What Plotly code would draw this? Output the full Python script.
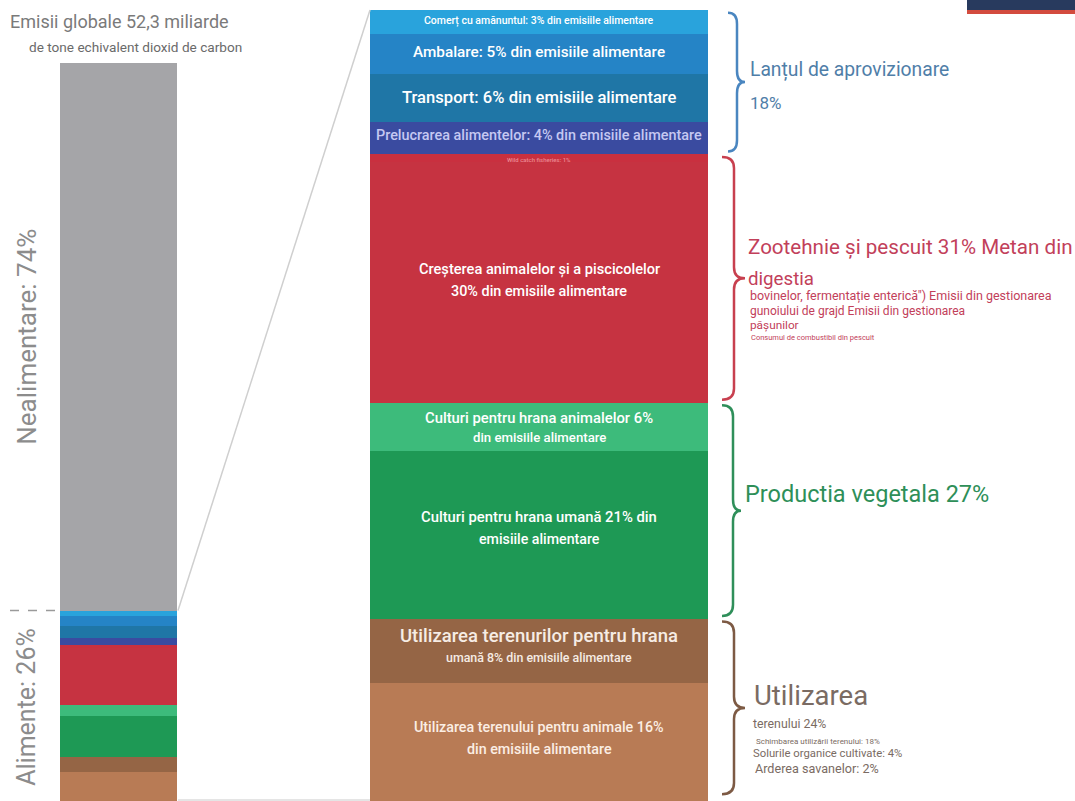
import plotly.graph_objects as go

# ---- data -------------------------------------------------------------
# share of total global emissions (52.3 bn t CO2e)
global_groups = ["Alimente", "Nealimentare"]
global_shares = [26, 74]

# breakdown of food emissions, bottom to top (% of food emissions)
food_segments = [
    "Utilizarea terenului pentru animale",
    "Utilizarea terenurilor pentru hrana umană",
    "Culturi pentru hrana umană",
    "Culturi pentru hrana animalelor",
    "Creșterea animalelor și a piscicolelor",
    "Wild catch fisheries",
    "Prelucrarea alimentelor",
    "Transport",
    "Ambalare",
    "Comerț cu amănuntul",
]
food_shares = [16, 8, 21, 6, 30, 1, 4, 6, 5, 3]

# stage groups (bracketed on the right), bottom to top
stage_names = ["Utilizarea terenului", "Productia vegetala", "Zootehnie și pescuit", "Lanțul de aprovizionare"]
stage_shares = [24, 27, 31, 18]

# ---- styling ----------------------------------------------------------
W, H = 1075, 801
FONT = "Roboto"
seg_colors = ["#b87b55", "#956545", "#1e9955", "#3dbb7b", "#c63341",
              "#c9303f", "#3a4ba0", "#1f76a6", "#2584c6", "#29a3dc"]
GRAY_BAR = "#a5a5a8"

Y1_RANGE = [0.27, 108.5]   # left column, % of global emissions
Y2_RANGE = [1.25, 101.25]  # right column, % of food emissions


def px(x):
    return x / W


def py(y):
    return 1 - y / H


def paper_from(v, rng):
    return (v - rng[0]) / (rng[1] - rng[0])


fig = go.Figure()

# left column: food part split with the same colours, non-food on top
food_total = global_shares[0]
for name, share, col in zip(food_segments, food_shares, seg_colors):
    fig.add_trace(go.Bar(x=[0], y=[share * food_total / 100], width=1,
                         marker=dict(color=col, line=dict(width=0)),
                         xaxis="x", yaxis="y", name=name, hoverinfo="skip"))
fig.add_trace(go.Bar(x=[0], y=[global_shares[1]], width=1,
                     marker=dict(color=GRAY_BAR, line=dict(width=0)),
                     xaxis="x", yaxis="y", name=global_groups[1], hoverinfo="skip"))

# right column: food emissions breakdown
for name, share, col in zip(food_segments, food_shares, seg_colors):
    fig.add_trace(go.Bar(x=[0], y=[share], width=1,
                         marker=dict(color=col, line=dict(width=0)),
                         xaxis="x2", yaxis="y2", name=name, hoverinfo="skip"))

annotations = []

# labels inside the right column: (text, size, colour, yshift)
seg_labels = [
    [("Utilizarea terenului pentru animale 16%", 14.3, "#fbeee4", 20),
     ("din emisiile alimentare", 14.3, "#fbeee4", -2)],
    [("Utilizarea terenurilor pentru hrana", 18.5, "#f6ece4", 15),
     ("umană 8% din emisiile alimentare", 12.4, "#f6ece4", -7)],
    [("Culturi pentru hrana umană 21% din", 14.8, "#ffffff", 18),
     ("emisiile alimentare", 14.2, "#ffffff", -4)],
    [("Culturi pentru hrana animalelor 6%", 14.8, "#ffffff", 9),
     ("din emisiile alimentare", 13.2, "#ffffff", -11)],
    [("Creșterea animalelor și a piscicolelor", 14.6, "#ffffff", 13),
     ("30% din emisiile alimentare", 14.4, "#ffffff", -9)],
    [("Wild catch fisheries: 1%", 6, "#e98a93", -1)],
    [("Prelucrarea alimentelor: 4% din emisiile alimentare", 14.4, "#c5c8f2", 3)],
    [("Transport: 6% din emisiile alimentare", 16.6, "#ffffff", 1)],
    [("Ambalare: 5% din emisiile alimentare", 15.3, "#ffffff", 2)],
    [("Comerț cu amănuntul: 3% din emisiile alimentare", 10.5, "#ffffff", 2)],
]
cum = 0
for share, lines in zip(food_shares, seg_labels):
    mid = cum + share / 2
    cum += share
    for text, size, col, ys in lines:
        annotations.append(dict(x=0, y=mid, xref="x2", yref="y2", text=text,
                                showarrow=False, yshift=ys, xanchor="center",
                                yanchor="middle",
                                font=dict(family=FONT, size=size, color=col, weight=500)))

# titles and side labels on the left
annotations += [
    dict(x=px(8), y=py(22), xref="paper", yref="paper", text="Emisii globale 52,3 miliarde",
         showarrow=False, xanchor="left", yanchor="middle",
         font=dict(family=FONT, size=18, color="#7a7a7a")),
    dict(x=px(135), y=py(47), xref="paper", yref="paper",
         text="de tone echivalent dioxid de carbon", showarrow=False,
         xanchor="center", yanchor="middle", font=dict(family=FONT, size=13.6, color="#6a6a6a")),
    dict(x=px(27), y=global_shares[0] + global_shares[1] / 2, xref="paper", yref="y",
         text=f"Nealimentare: {global_shares[1]}%", textangle=-90, showarrow=False,
         xanchor="center", yanchor="middle", font=dict(family=FONT, size=26, color="#8c8c8c")),
    dict(x=px(27), y=global_shares[0] / 2, xref="paper", yref="y",
         text=f"Alimente: {global_shares[0]}%", textangle=-90, showarrow=False,
         xanchor="center", yanchor="middle", font=dict(family=FONT, size=25, color="#8c8c8c")),
]

# stage descriptions beside the braces
BLUE_T, RED_T, GREEN_T, BROWN_T = "#4f7ea8", "#c2405a", "#2e8f58", "#7a6b63"
side_texts = [
    (748, 70, "Lanțul de aprovizionare", 19.3, BLUE_T),
    (748, 103, f"{stage_shares[3]}%", 17, BLUE_T),
    (746, 247, f"Zootehnie și pescuit {stage_shares[2]}% Metan din", 20.6, RED_T),
    (746, 279, "digestia", 18.7, RED_T),
    (748, 296, "bovinelor, fermentație enterică\") Emisii din gestionarea", 12.5, RED_T),
    (748, 311, "gunoiului de grajd Emisii din gestionarea", 12, RED_T),
    (748, 325, "pășunilor", 11.8, RED_T),
    (749, 338, "Consumul de combustibil din pescuit", 7.5, RED_T),
    (743, 494, f"Productia vegetala {stage_shares[1]}%", 23.5, GREEN_T),
    (752, 695, "Utilizarea", 27.5, BROWN_T),
    (751, 724, f"terenului {stage_shares[0]}%", 12.3, BROWN_T),
    (754, 741, "Schimbarea utilizării terenului: 18%", 8, BROWN_T),
    (751, 753, "Solurile organice cultivate: 4%", 11.3, BROWN_T),
    (753, 768, "Arderea savanelor: 2%", 12.6, BROWN_T),
]
for x, y, text, size, col in side_texts:
    annotations.append(dict(x=px(x), y=py(y), xref="paper", yref="paper", text=text,
                            showarrow=False, xanchor="left", yanchor="middle",
                            font=dict(family=FONT, size=size, color=col)))

shapes = []


def brace(top, bot, x0, xm, xt, color):
    r = 1.4
    mid = (top + bot) / 2
    path = (f"M {px(x0)},{top} Q {px(xm)},{top} {px(xm)},{top - r} "
            f"L {px(xm)},{mid + r} Q {px(xm)},{mid} {px(xt)},{mid} "
            f"Q {px(xm)},{mid} {px(xm)},{mid - r} "
            f"L {px(xm)},{bot + r} Q {px(xm)},{bot} {px(x0)},{bot}")
    return dict(type="path", path=path, xref="paper", yref="y2",
                line=dict(color=color, width=2.5), layer="above")


# one brace per stage group, spanning the stacked segments it covers
brace_style = [
    (722, 734, 745, "#7d5a44"),
    (722, 733, 741, "#2f8f5a"),
    (722, 734, 745, "#c8404f"),
    (728, 737, 745, "#4a86c0"),
]
cum = 0
for share, (x0, xm, xt, col) in zip(stage_shares, brace_style):
    lo, hi = cum, cum + share
    cum = hi
    lo = max(lo, Y2_RANGE[0] + 0.5)
    shapes.append(brace(hi - 0.35, lo + 0.35, x0, xm, xt, col))

# connectors between the two columns
food_top_left = paper_from(global_shares[0], Y1_RANGE)
food_top_right = paper_from(sum(food_shares), Y2_RANGE)
shapes += [
    dict(type="line", xref="paper", yref="paper", x0=px(178), x1=px(370),
         y0=food_top_left, y1=food_top_right, line=dict(color="#cfcfcf", width=1.5)),
    dict(type="line", xref="paper", yref="paper", x0=px(178), x1=px(370),
         y0=py(800), y1=py(800), line=dict(color="#dddddd", width=1.5)),
    dict(type="line", xref="paper", yref="paper", x0=px(10), x1=px(58),
         y0=food_top_left, y1=food_top_left, line=dict(color="#9a9a9a", width=1.5, dash="dash")),
    # badge in the upper-right corner
    dict(type="rect", xref="paper", yref="paper", x0=px(967), x1=px(1075),
         y0=py(10), y1=py(0), fillcolor="#283a5e", line=dict(width=0)),
    dict(type="rect", xref="paper", yref="paper", x0=px(967), x1=px(1075),
         y0=py(14), y1=py(10), fillcolor="#d34b3e", line=dict(width=0)),
]

axis_off = dict(visible=False, showgrid=False, zeroline=False, fixedrange=True)
fig.update_layout(
    width=W, height=H,
    margin=dict(l=0, r=0, t=0, b=0),
    paper_bgcolor="white", plot_bgcolor="rgba(0,0,0,0)",
    barmode="stack", bargap=0, showlegend=False,
    xaxis=dict(domain=[px(60), px(177)], range=[-0.5, 0.5], **axis_off),
    yaxis=dict(domain=[0, 1], range=Y1_RANGE, **axis_off),
    xaxis2=dict(domain=[px(370), px(708)], range=[-0.5, 0.5], anchor="y2", **axis_off),
    yaxis2=dict(domain=[0, 1], range=Y2_RANGE, anchor="x2", **axis_off),
    annotations=annotations,
    shapes=shapes,
)

fig.write_html("out.html")
